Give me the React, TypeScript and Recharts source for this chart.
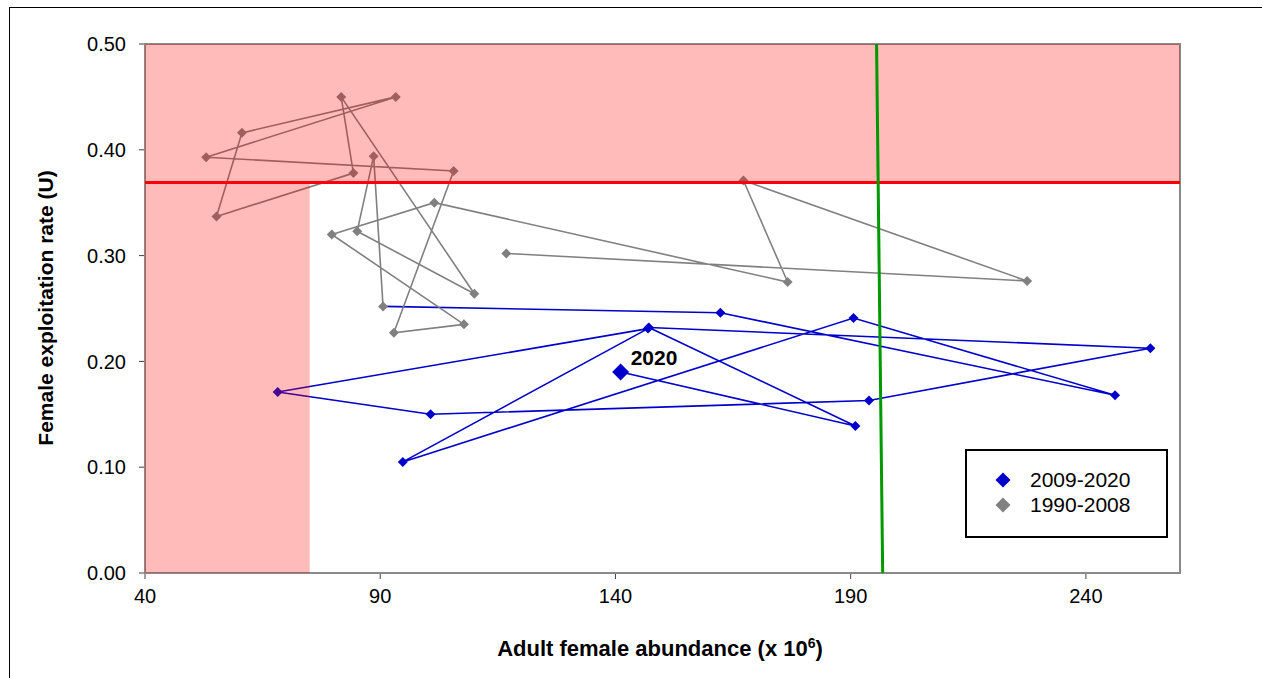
import React from "react";
import {
  ScatterChart,
  Scatter,
  XAxis,
  YAxis,
  ReferenceArea,
  ReferenceLine,
  Label,
} from "recharts";

// 1990-2008 (grey)
const greyYears = [
  1990, 1991, 1992, 1993, 1994, 1995, 1996, 1997, 1998, 1999, 2000, 2001, 2002,
  2003, 2004, 2005, 2006, 2007, 2008,
];
const greyAbundance = [
  116.8, 227.5, 167.2, 176.6, 101.5, 79.7, 107.8, 92.9, 105.6, 53.0, 93.3, 60.6,
  55.2, 84.3, 81.7, 110.0, 85.1, 88.6, 90.6,
];
const greyRate = [
  0.302, 0.276, 0.371, 0.275, 0.35, 0.32, 0.235, 0.227, 0.38, 0.393, 0.45,
  0.416, 0.337, 0.378, 0.45, 0.264, 0.323, 0.394, 0.252,
];

// 2009-2020 (blue)
const blueYears = [
  2009, 2010, 2011, 2012, 2013, 2014, 2015, 2016, 2017, 2018, 2019, 2020,
];
const blueAbundance = [
  162.3, 246.2, 190.6, 94.8, 146.9, 68.2, 100.7, 193.9, 253.7, 147.1, 191.0,
  141.1,
];
const blueRate = [
  0.246, 0.168, 0.241, 0.105, 0.231, 0.171, 0.15, 0.163, 0.2125, 0.232, 0.139,
  0.19,
];

const xTicks = [40, 90, 140, 190, 240];
const yTicks = [0, 0.1, 0.2, 0.3, 0.4, 0.5];

// reference points
const uLimit = 0.369;
const lowAbundance = 75;
const targetTop = 195.5;
const targetBottom = 196.8;
const labelYear = 2020;

const BLUE = "#0000CC";
const GREY = "#808080";

const greyData = greyYears.map((year, i) => ({
  year,
  x: greyAbundance[i],
  y: greyRate[i],
}));

// blue path starts from the last grey year, marker hidden there
const blueData = [
  { ...greyData[greyData.length - 1], hidden: true },
  ...blueYears.map((year, i) => ({
    year,
    x: blueAbundance[i],
    y: blueRate[i],
  })),
];

function Diamond(props: any) {
  const { cx, cy, payload, fill } = props;
  if (payload.hidden || cx == null) return <g />;
  const big = payload.year === labelYear;
  const r = big ? 8.5 : 5;
  return (
    <g>
      <polygon
        points={`${cx},${cy - r} ${cx + r},${cy} ${cx},${cy + r} ${cx - r},${cy}`}
        fill={fill}
      />
      {big && (
        <text x={cx + 10} y={cy - 7} fontSize={21} fontWeight="bold" fill="#000">
          {payload.year}
        </text>
      )}
    </g>
  );
}

function LegendDiamond({ color }: { color: string }) {
  return (
    <svg width={16} height={16} style={{ display: "block" }}>
      <polygon points="8,0.5 15.5,8 8,15.5 0.5,8" fill={color} />
    </svg>
  );
}

export default function App() {
  return (
    <div
      style={{
        position: "fixed",
        left: 0,
        top: 0,
        width: 1262,
        height: 678,
        background: "#fff",
        overflow: "hidden",
        fontFamily: '"Liberation Sans", Arial, sans-serif',
      }}
    >
      <div
        style={{
          position: "absolute",
          left: 9,
          top: 7,
          width: 1300,
          height: 700,
          border: "1px solid #000",
        }}
      />
      <div style={{ position: "absolute", left: 0, top: 0 }}>
        <ScatterChart
          width={1262}
          height={678}
          margin={{ top: 44, right: 82, bottom: 0, left: 0 }}
        >
          <XAxis
            type="number"
            dataKey="x"
            domain={[40, 260]}
            ticks={xTicks}
            allowDataOverflow
            height={105}
            stroke="#404040"
            tickSize={6}
            tickMargin={10}
            tick={{ fill: "#000", fontSize: 20 }}
          >
            <Label
              content={() => (
                <text
                  x={660}
                  y={656}
                  textAnchor="middle"
                  fontSize={22}
                  fontWeight="bold"
                  fill="#000"
                >
                  Adult female abundance (x 10
                  <tspan dy={-8} fontSize={14}>
                    6
                  </tspan>
                  <tspan dy={8}>)</tspan>
                </text>
              )}
            />
          </XAxis>
          <YAxis
            type="number"
            dataKey="y"
            domain={[0, 0.5]}
            ticks={yTicks}
            allowDataOverflow
            width={145}
            stroke="#404040"
            tickSize={6}
            tickMargin={13}
            tickFormatter={(v: number) => v.toFixed(2)}
            tick={{ fill: "#000", fontSize: 20 }}
          >
            <Label
              content={() => (
                <text
                  x={53}
                  y={308}
                  textAnchor="middle"
                  fontSize={21}
                  fontWeight="bold"
                  fill="#000"
                  transform="rotate(-90 53 308)"
                >
                  Female exploitation rate (U)
                </text>
              )}
            />
          </YAxis>
          <Scatter
            name="2009-2020"
            data={blueData}
            fill={BLUE}
            line={{ stroke: BLUE, strokeWidth: 1.6 }}
            lineType="joint"
            lineJointType="linear"
            shape={(p: any) => <Diamond {...p} />}
            isAnimationActive={false}
          />
          <Scatter
            name="1990-2008"
            data={greyData}
            fill={GREY}
            line={{ stroke: GREY, strokeWidth: 1.6 }}
            lineType="joint"
            lineJointType="linear"
            shape={(p: any) => <Diamond {...p} />}
            isAnimationActive={false}
          />
          <ReferenceArea
            x1={40}
            x2={260}
            y1={uLimit}
            y2={0.5}
            fill="#FF0000"
            fillOpacity={0.27}
            stroke="none"
            zIndex={700}
          />
          <ReferenceArea
            x1={40}
            x2={lowAbundance}
            y1={0}
            y2={uLimit}
            fill="#FF0000"
            fillOpacity={0.27}
            stroke="none"
            zIndex={700}
          />
          <ReferenceArea
            x1={40}
            x2={260}
            y1={0}
            y2={0.5}
            fill="none"
            stroke="#8a8a8a"
            strokeWidth={2}
            zIndex={650}
          />
          <ReferenceLine
            y={uLimit}
            stroke="#FF0000"
            strokeWidth={3}
            zIndex={800}
          />
          <ReferenceLine
            segment={[
              { x: targetTop, y: 0.5 },
              { x: targetBottom, y: 0 },
            ]}
            stroke="#009900"
            strokeWidth={3}
            zIndex={800}
          />
        </ScatterChart>
      </div>
      <div
        style={{
          position: "absolute",
          left: 965,
          top: 449,
          width: 203,
          height: 89,
          boxSizing: "border-box",
          border: "2px solid #000",
          background: "#fff",
          fontSize: 21,
          color: "#000",
          paddingTop: 17,
          paddingLeft: 28,
        }}
      >
        {[
          { label: "2009-2020", color: BLUE },
          { label: "1990-2008", color: GREY },
        ].map((item) => (
          <div
            key={item.label}
            style={{ display: "flex", alignItems: "center", height: 24.5 }}
          >
            <LegendDiamond color={item.color} />
            <span style={{ marginLeft: 19 }}>{item.label}</span>
          </div>
        ))}
      </div>
    </div>
  );
}
